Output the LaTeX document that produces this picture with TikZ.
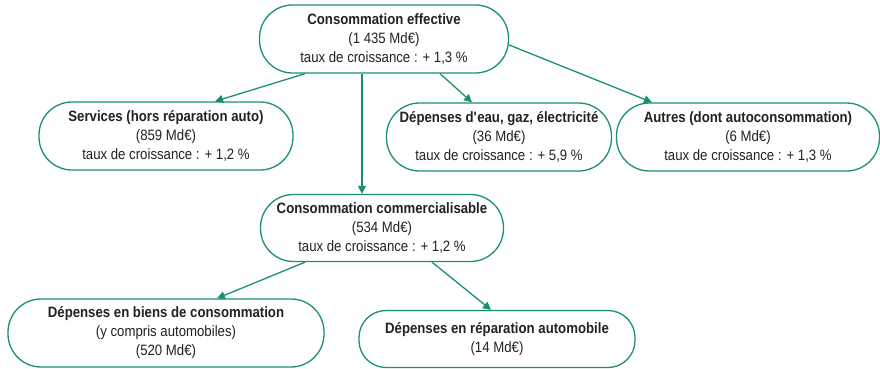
\documentclass[tikz,border=0pt]{standalone}
\usepackage{fontspec}
\setmainfont{Liberation Sans}[FakeStretch=0.88]
\usetikzlibrary{arrows.meta}
\definecolor{eqgreen}{HTML}{1A9070}
\definecolor{txt}{HTML}{222222}
\begin{document}
\begin{tikzpicture}[x=1pt,y=-1pt,
  bx/.style={draw=eqgreen, line width=1.3pt, rounded corners=33pt, align=center, text=txt, inner sep=0pt, font=\fontsize{15}{19}\selectfont, fill=white},
  arr/.style={draw=eqgreen, line width=1.3pt, -{Triangle[length=8pt,width=8pt]}}]
\useasboundingbox (0,0) rectangle (880,369);
\node[bx, minimum width=249pt, minimum height=68pt] (top) at (384,39) {\textbf{Consommation effective}\\(1 435 Md€)\\taux de croissance : + 1,3 \%};
\node[bx, minimum width=254pt, minimum height=68pt] (serv) at (166,136) {\textbf{Services (hors réparation auto)}\\(859 Md€)\\taux de croissance : + 1,2 \%};
\node[bx, minimum width=225pt, minimum height=68pt] (eau) at (499,137) {\textbf{Dépenses d\textquotesingle eau, gaz, électricité}\\(36 Md€)\\taux de croissance : + 5,9 \%};
\node[bx, minimum width=263pt, minimum height=68pt] (autres) at (748,137) {\textbf{Autres (dont autoconsommation)}\\(6 Md€)\\taux de croissance : + 1,3 \%};
\node[bx, minimum width=243pt, minimum height=67pt] (comm) at (382,228) {\textbf{Consommation commercialisable}\\(534 Md€)\\taux de croissance : + 1,2 \%};
\node[bx, minimum width=316pt, minimum height=68pt] (biens) at (166,333) {\textbf{Dépenses en biens de consommation}\\(y compris automobiles)\\(520 Md€)};
\node[bx, rounded corners=27pt, minimum width=276pt, minimum height=57pt] (rep) at (497,339) {\textbf{Dépenses en réparation automobile}\\(14 Md€)};
\draw[arr] ([xshift=-79pt]top.south) -- ([xshift=49pt]serv.north);
\draw[arr] ([xshift=-22pt]top.south) -- ([xshift=-20pt]comm.north);
\draw[arr] ([xshift=56pt]top.south) -- ([xshift=-27pt]eau.north);
\draw[arr] ([yshift=-6pt]top.east) -- ([xshift=-96pt]autres.north);
\draw[arr] ([xshift=-77pt]comm.south) -- ([xshift=51pt]biens.north);
\draw[arr] ([xshift=50pt]comm.south) -- ([xshift=-6pt]rep.north);
\end{tikzpicture}
\end{document}
